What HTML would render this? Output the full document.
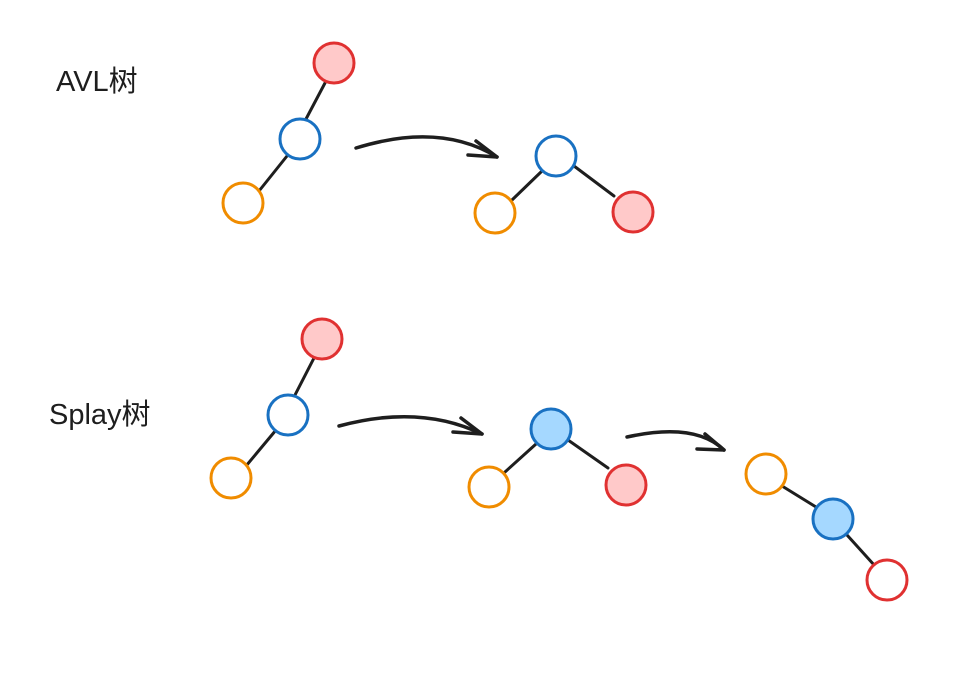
<!DOCTYPE html>
<html><head><meta charset="utf-8"><style>
html,body{margin:0;padding:0;background:#fff;}
svg{display:block}
text{font-family:"Liberation Sans","Noto Sans CJK SC",sans-serif;fill:#1e1e1e}
</style></head><body>
<svg width="968" height="678" viewBox="0 0 968 678" xmlns="http://www.w3.org/2000/svg">
<rect width="968" height="678" fill="#fff"/>
<text x="56" y="91" font-size="29">AVL树</text>
<text x="49" y="424" font-size="29">Splay树</text>
<g stroke="#1e1e1e" stroke-width="3" fill="none" stroke-linecap="round">
<line x1="325" y1="83" x2="306" y2="119"/>
<line x1="287" y1="156" x2="259" y2="191"/>
<line x1="542" y1="171" x2="512" y2="200"/>
<line x1="574" y1="166" x2="614" y2="196"/>
<line x1="314" y1="358" x2="295" y2="395"/>
<line x1="276" y1="430" x2="246" y2="466"/>
<line x1="536" y1="444" x2="505" y2="472"/>
<line x1="568" y1="440" x2="608" y2="468"/>
<line x1="782" y1="486" x2="816" y2="507"/>
<line x1="847" y1="535" x2="875" y2="566"/>
</g>
<g stroke="#1e1e1e" stroke-width="3.5" fill="none" stroke-linecap="round" stroke-linejoin="round">
<path d="M356 148 Q440 122 497 157"/>
<path d="M476 141 L497 157 L468 155"/>
<path d="M339 426 Q420 404 482 434"/>
<path d="M461 418 L482 434 L453 432"/>
<path d="M627 437 Q695 422 724 450"/>
<path d="M705 434 L724 450 L697 449"/>
</g>
<g stroke-width="3">
<circle cx="334" cy="63" r="20" fill="#ffc9c9" stroke="#e03131"/>
<circle cx="300" cy="139" r="20" fill="#fff" stroke="#1971c2"/>
<circle cx="243" cy="203" r="20" fill="#fff" stroke="#f08c00"/>
<circle cx="556" cy="156" r="20" fill="#fff" stroke="#1971c2"/>
<circle cx="495" cy="213" r="20" fill="#fff" stroke="#f08c00"/>
<circle cx="633" cy="212" r="20" fill="#ffc9c9" stroke="#e03131"/>
<circle cx="322" cy="339" r="20" fill="#ffc9c9" stroke="#e03131"/>
<circle cx="288" cy="415" r="20" fill="#fff" stroke="#1971c2"/>
<circle cx="231" cy="478" r="20" fill="#fff" stroke="#f08c00"/>
<circle cx="551" cy="429" r="20" fill="#a5d8ff" stroke="#1971c2"/>
<circle cx="489" cy="487" r="20" fill="#fff" stroke="#f08c00"/>
<circle cx="626" cy="485" r="20" fill="#ffc9c9" stroke="#e03131"/>
<circle cx="766" cy="474" r="20" fill="#fff" stroke="#f08c00"/>
<circle cx="833" cy="519" r="20" fill="#a5d8ff" stroke="#1971c2"/>
<circle cx="887" cy="580" r="20" fill="#fff" stroke="#e03131"/>
</g>
</svg>
</body></html>
